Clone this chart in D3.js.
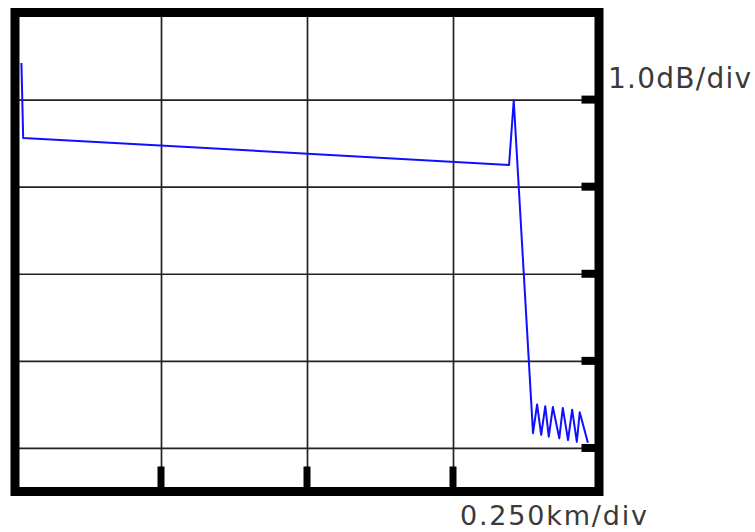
<!DOCTYPE html>
<html lang="en">
<head>
<meta charset="UTF-8" />
<title>OTDR trace</title>
<script src="https://d3js.org/d3.v7.min.js"></script>
<style>
  body { margin: 0; background: #fff; }
  svg { display: block; }
</style>
</head>
<body>
<div id="chart"></div>
<script>
// trace (distance in km, level in dB above bottom edge)
var distKm = [0.011, 0.014, 0.846, 0.854, 0.887, 0.894, 0.901, 0.908, 0.914, 0.921, 0.932, 0.938, 0.947, 0.954, 0.962, 0.967, 0.981];
var lossDb = [4.92, 4.06, 3.75, 4.49, 0.67, 1.00, 0.65, 0.98, 0.63, 0.97, 0.61, 0.96, 0.59, 0.94, 0.57, 0.91, 0.56];

// grid divisions
var xDivs = [0.25, 0.5, 0.75];
var yDivs = [0.5, 1.5, 2.5, 3.5, 4.5];

var xUnit = "0.250km/div";
var yUnit = "1.0dB/div";

var width = 755, height = 532;

var x = d3.scaleLinear().domain([0, 1]).range([15, 599]);
var y = d3.scaleLinear().domain([0, 5.5]).range([491.5, 12.5]);

var svg = d3.select("#chart").append("svg")
  .attr("width", width)
  .attr("height", height);

// grid lines
svg.append("g")
  .attr("transform", "translate(0," + y(0) + ")")
  .call(d3.axisBottom(x).tickValues(xDivs).tickSize(-(y(0) - y(5.5))).tickFormat(""))
  .call(function(g) { g.select(".domain").remove(); })
  .selectAll("line").attr("stroke", "#222").attr("stroke-width", 1.7);

svg.append("g")
  .attr("transform", "translate(" + x(1) + ",0)")
  .call(d3.axisLeft(y).tickValues(yDivs).tickSize(x(1) - x(0)).tickFormat(""))
  .call(function(g) { g.select(".domain").remove(); })
  .selectAll("line").attr("stroke", "#222").attr("stroke-width", 1.7);

// trace
var line = d3.line()
  .x(function(d, i) { return x(distKm[i]); })
  .y(function(d, i) { return y(lossDb[i]); });

svg.append("path")
  .datum(distKm)
  .attr("d", line)
  .attr("fill", "none")
  .attr("stroke", "#1010ff")
  .attr("stroke-width", 2)
  .attr("stroke-linejoin", "round");

// frame
svg.append("rect")
  .attr("x", x(0))
  .attr("y", y(5.5))
  .attr("width", x(1) - x(0))
  .attr("height", y(0) - y(5.5))
  .attr("fill", "none")
  .attr("stroke", "#000")
  .attr("stroke-width", 9);

// thick division marks
svg.selectAll(".xmark")
  .data(xDivs)
  .enter().append("line")
  .attr("x1", function(d) { return x(d); })
  .attr("x2", function(d) { return x(d); })
  .attr("y1", y(0))
  .attr("y2", y(0) - 25)
  .attr("stroke", "#000")
  .attr("stroke-width", 7);

svg.selectAll(".ymark")
  .data(yDivs)
  .enter().append("line")
  .attr("x1", x(1))
  .attr("x2", x(1) - 17.5)
  .attr("y1", function(d) { return y(d); })
  .attr("y2", function(d) { return y(d); })
  .attr("stroke", "#000")
  .attr("stroke-width", 8);

// unit labels
svg.append("text")
  .attr("x", 608)
  .attr("y", 88)
  .attr("font-family", "DejaVu Sans")
  .attr("font-size", 28)
  .attr("fill", "#3a3a3a")
  .attr("textLength", 143)
  .attr("lengthAdjust", "spacing")
  .text(yUnit);

svg.append("text")
  .attr("x", 460)
  .attr("y", 525)
  .attr("font-family", "DejaVu Sans")
  .attr("font-size", 27)
  .attr("fill", "#3a3a3a")
  .attr("textLength", 187)
  .attr("lengthAdjust", "spacing")
  .text(xUnit);
</script>
</body>
</html>
